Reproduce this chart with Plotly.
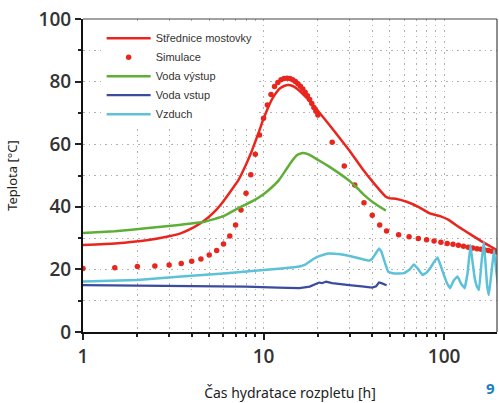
import plotly.graph_objects as go

# --- data ---
mid_t = [1, 1.5, 2.3, 3.0, 3.5, 4.1, 4.7, 5.3, 5.85, 6.5, 7.27, 8.0, 8.5, 9.0, 9.5, 9.9, 10.5, 11.2, 11.8, 12.3, 13.0, 13.7, 14.5, 15.8, 17.0, 18.0, 19.0, 20.3, 23.0, 26.2, 29.8, 35.0, 41.0, 47.6, 50.0, 54.0, 62.0, 72.0, 82.6, 95.0, 106.0, 121.0, 140.0, 163.0, 180.0, 197.0]
mid_v = [27.8, 28.3, 29.4, 30.6, 31.6, 33.4, 35.6, 38.2, 41.0, 44.6, 48.6, 53.5, 57.0, 60.8, 64.5, 67.5, 71.2, 74.6, 76.6, 77.8, 78.6, 78.9, 78.6, 77.1, 75.3, 73.8, 72.2, 70.2, 66.4, 62.2, 58.1, 52.4, 47.4, 43.2, 42.7, 42.6, 41.6, 40.0, 38.0, 37.0, 35.8, 33.5, 31.2, 28.8, 27.4, 26.1]

sim_t = [1, 1.5, 2, 2.5, 3, 3.5, 4, 4.5, 5, 5.5, 6, 6.5, 7, 7.5, 8, 8.5, 9, 9.5, 10, 10.5, 11, 11.5, 12, 12.5, 13, 13.5, 14, 14.5, 15, 15.5, 16, 16.5, 17, 17.5, 18, 18.5, 19, 19.5, 20,
         24, 28, 32, 36, 40, 44, 48, 56, 64, 72, 80, 88, 96, 104, 112, 120, 128, 136, 144, 152, 160, 168, 176, 184, 192]
sim_v = [20.3, 20.5, 20.9, 21.1, 21.4, 21.9, 22.6, 23.3, 24.6, 26.0, 28.1, 30.7, 34.2, 39.0, 44.3, 50.2, 56.8, 62.9, 68.3, 72.5, 75.9, 78.4, 79.7, 80.6, 81.0, 81.1, 81.0, 80.6, 80.0, 79.3, 78.5, 77.6, 76.6, 75.5, 74.3, 73.0, 71.7, 70.5, 69.3,
         60.6, 53.0, 47.0, 41.3, 37.3, 34.2, 32.3, 31.1, 30.4, 29.9, 29.5, 29.1, 28.7, 28.3, 28.0, 27.7, 27.4, 27.1, 26.8, 26.6, 26.4, 26.2, 26.0, 25.8, 25.6]

out_t = [1, 1.5, 2.3, 3.4, 4.7, 6.0, 7.27, 8.0, 9.0, 10.0, 11.0, 12.2, 13.2, 14.3, 15.3, 16.4, 17.5, 18.5, 20.0, 22.0, 24.0, 27.0, 30.0, 33.0, 36.0, 40.0, 44.0, 47.6]
out_v = [31.6, 32.2, 33.2, 34.2, 35.2, 37.0, 39.6, 40.8, 42.3, 44.0, 46.0, 48.6, 51.5, 54.5, 56.5, 57.2, 56.9, 56.2, 55.0, 53.6, 52.2, 50.2, 48.2, 46.0, 43.8, 41.6, 40.0, 38.8]

in_t = [1, 2, 3, 5, 8, 12, 15.8, 18.0, 19.5, 20.3, 21.0, 22.2, 24.0, 27.0, 29.8, 35.0, 40.0, 42.0, 43.6, 45.0, 46.5, 48.0]
in_v = [15.0, 14.9, 14.8, 14.7, 14.5, 14.2, 14.0, 14.5, 15.3, 15.8, 15.6, 16.1, 15.6, 15.2, 15.0, 14.6, 14.2, 14.6, 15.8, 15.6, 15.3, 14.9]

air_t = [1, 2, 3.5, 6, 10, 12.6, 15.8, 17, 18, 19, 20, 21.5, 23, 26, 30, 35, 38.4, 40, 41.5, 43.6, 45, 46.5, 49, 52, 55, 60, 64, 68, 72, 76, 80, 84, 88, 92, 96, 100, 104, 108, 112, 115, 119, 124, 130, 135, 140, 144, 148, 152, 156, 161, 166, 170, 173, 177, 183, 189, 194, 200]
air_v = [16.1, 16.6, 17.7, 18.7, 19.8, 20.3, 20.9, 21.5, 22.5, 23.4, 24.1, 24.7, 25.1, 24.9, 24.3, 23.3, 22.8, 23.4, 24.8, 26.7, 25.6, 23.0, 19.3, 18.8, 18.7, 18.8, 19.8, 21.6, 20.0, 18.2, 19.0, 20.5, 22.4, 23.8, 21.0, 18.0, 15.5, 14.0, 16.0, 17.0, 17.7, 15.5, 14.0, 19.0, 27.8, 22.0, 17.0, 14.5, 13.4, 22.0, 28.8, 21.0, 15.0, 11.8, 19.0, 26.2, 20.0, 14.0]

names = ["Střednice mostovky", "Simulace", "Voda výstup", "Voda vstup", "Vzduch"]
colors = ["#e8261e", "#e8261e", "#5fae38", "#3b4c9e", "#5cc1d9"]

x_major = [1, 10, 100]
x_minor = [2, 3, 4, 5, 6, 7, 8, 9, 20, 30, 40, 50, 60, 70, 80, 90, 200]
y_major = [0, 20, 40, 60, 80, 100]
y_minor = [10, 30, 50, 70, 90]

fig = go.Figure()
fig.add_trace(go.Scatter(x=mid_t, y=mid_v, mode="lines", name=names[0],
                         line=dict(color=colors[0], width=2.5, shape="spline", smoothing=0.3)))
fig.add_trace(go.Scatter(x=sim_t, y=sim_v, mode="markers", name=names[1],
                         marker=dict(color=colors[1], size=5.5)))
fig.add_trace(go.Scatter(x=out_t, y=out_v, mode="lines", name=names[2],
                         line=dict(color=colors[2], width=2.5, shape="spline", smoothing=0.3)))
fig.add_trace(go.Scatter(x=in_t, y=in_v, mode="lines", name=names[3],
                         line=dict(color=colors[3], width=2.2)))
fig.add_trace(go.Scatter(x=air_t, y=air_v, mode="lines", name=names[4],
                         line=dict(color=colors[4], width=2.5, shape="spline", smoothing=0.2)))

gridc = "#b0b0b0"
gdash = "1.5px,4px"
gw = 1.4
tickfont = dict(family="Open Sans", size=19, color="#333333", weight=600)

fig.update_layout(
    width=499, height=403,
    margin=dict(l=83, r=2, t=19, b=71),
    paper_bgcolor="white", plot_bgcolor="white",
    showlegend=True,
    legend=dict(x=0.045, y=0.985, xanchor="left", yanchor="top",
                bgcolor="white", borderwidth=0,
                font=dict(family="Liberation Sans", size=11, color="#333333"),
                tracegroupgap=0, itemwidth=44),
    xaxis=dict(type="log", range=[0, 2.293],
               tickmode="array", tickvals=x_major, ticktext=[str(v) for v in x_major],
               ticks="outside", ticklen=6, tickwidth=2, tickcolor="#222",
               showline=True, linecolor="#111", linewidth=2, mirror=False,
               tickfont=tickfont, zeroline=False,
               showgrid=True, gridcolor=gridc, griddash=gdash, gridwidth=gw,
               minor=dict(tickmode="array", tickvals=x_minor, ticks="outside", ticklen=3,
                          tickwidth=1.5, tickcolor="#222", showgrid=True,
                          gridcolor=gridc, griddash=gdash, gridwidth=gw),
               title=dict(text="Čas hydratace rozpletu [h]", standoff=20,
                          font=dict(family="Noto Sans", size=14, color="#222"))),
    yaxis=dict(range=[0, 100],
               tickmode="array", tickvals=y_major,
               ticks="outside", ticklen=6, tickwidth=2, tickcolor="#222",
               showline=True, linecolor="#111", linewidth=2, mirror=False,
               tickfont=tickfont, zeroline=False,
               showgrid=True, gridcolor=gridc, griddash=gdash, gridwidth=gw,
               minor=dict(tickmode="array", tickvals=y_minor, ticks="outside", ticklen=3,
                          tickwidth=1.5, tickcolor="#222", showgrid=True,
                          gridcolor=gridc, griddash=gdash, gridwidth=gw),
               title=dict(text="Teplota [°C]", standoff=18,
                          font=dict(family="Noto Sans", size=13, color="#222"))),
)

# thin top and right border
fig.add_shape(type="line", xref="paper", yref="paper", x0=0, x1=1, y0=1, y1=1,
              line=dict(color="#444", width=1.2))
fig.add_shape(type="line", xref="paper", yref="paper", x0=1, x1=1, y0=0, y1=1,
              line=dict(color="#444", width=1.2))

fig.add_annotation(text="<b>9</b>", xref="paper", yref="paper", x=1.0, y=-0.18,
                   xanchor="right", yanchor="middle", showarrow=False,
                   font=dict(family="Noto Sans", size=15, color="#1b7fc4"))

fig.write_html("out.html")
